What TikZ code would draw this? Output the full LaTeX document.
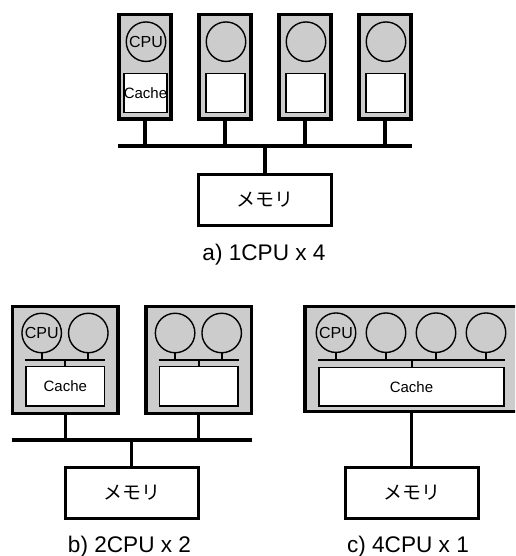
\documentclass[tikz,border=0pt]{standalone}
\usepackage{fontspec}
\setmainfont{Liberation Sans}
\newfontfamily\jpfont{Noto Sans CJK JP}
\usetikzlibrary{positioning}

\begin{document}
\begin{tikzpicture}[
 x=1pt,y=-1pt,
 board/.style={draw,line width=3.4pt,fill=black!20,inner sep=0pt},
 cpu/.style={draw,circle,line width=1.4pt,minimum size=39.5pt,inner sep=0pt,font=\fontsize{16}{16}\selectfont},
 cache/.style={draw,fill=white,line width=1.4pt,inner sep=0pt,font=\fontsize{15}{15}\selectfont},
 mem/.style={draw,line width=3.2pt,minimum width=133pt,minimum height=51pt,inner sep=0pt,font=\jpfont\fontsize{19}{19}\selectfont},
 bus/.style={line width=3.2pt},
 tap/.style={line width=2pt},
 title/.style={anchor=base,font=\fontsize{22.6}{22.6}\selectfont}
]
\useasboundingbox (0,0) rectangle (515,556);
\clip (0,0) rectangle (515,556);

% a) 1CPU x 4
\foreach \i/\x in {1/145,2/225,3/305,4/385}{
  \node[board,minimum width=52pt,minimum height=104.5pt] (pa\i) at (\x,66.7) {};
  \node[cpu] (ca\i) at (\x+1,41.7) {\ifnum\i=1 CPU\fi};
  \node[cache,minimum size=39pt] (ka\i) at (\x+0.5,93.3) {\ifnum\i=1 Cache\fi};
}
\coordinate (busaL) at (118,146);
\coordinate (busaR) at (412,146);
\draw[bus] (busaL) -- (busaR);
\foreach \i in {1,...,4}
  \draw[bus] (pa\i.south) -- (pa\i.south |- busaL);
\node[mem] (ma) at (265,200) {メモリ};
\draw[bus] (ma.north) -- (ma.north |- busaL);
\node[title] (ta) at (264,260.7) {a) 1CPU x 4};

% b) 2CPU x 2
\foreach \i/\x in {1/65.3,2/198.7}{
  \node[board,minimum width=105.5pt,minimum height=106.5pt] (pb\i) at (\x,360) {};
  \node[cpu] (cb\i1) at (\x-23.6,333) {\ifnum\i=1 CPU\fi};
  \node[cpu] (cb\i2) at (\x+23,333) {};
  \node[cache,minimum width=78.6pt,minimum height=39.3pt] (kb\i) at (\x,386.3) {\ifnum\i=1 Cache\fi};
  \coordinate (ibL\i) at (\x-40,360);
  \coordinate (ibR\i) at (\x+40,360);
  \draw[tap] (ibL\i) -- (ibR\i);
  \draw[tap] (cb\i1.south) -- (cb\i1.south |- ibL\i);
  \draw[tap] (cb\i2.south) -- (cb\i2.south |- ibL\i);
  \draw[tap] (kb\i.north) -- (kb\i.north |- ibL\i);
}
\coordinate (busbL) at (12.3,440);
\coordinate (busbR) at (251.7,440);
\draw[bus] (busbL) -- (busbR);
\foreach \i in {1,2}
  \draw[bus] (pb\i.south) -- (pb\i.south |- busbL);
\node[mem] (mb) at (131.7,493) {メモリ};
\draw[bus] (mb.north) -- (mb.north |- busbL);
\node[title] (tb) at (129.5,552.7) {b) 2CPU x 2};

% c) 4CPU x 1
\node[board,minimum width=213.5pt,minimum height=105pt] (pc) at (411.7,359.2) {};
\foreach \i/\x in {1/336,2/386,3/436,4/486}
  \node[cpu] (cc\i) at (\x,332.7) {\ifnum\i=1 CPU\fi};
\node[cache,minimum width=185.3pt,minimum height=38.6pt] (kc) at (411.5,386.7) {Cache};
\coordinate (icL) at (318.3,360);
\coordinate (icR) at (505,360);
\draw[tap] (icL) -- (icR);
\foreach \i in {1,...,4}
  \draw[tap] (cc\i.south) -- (cc\i.south |- icL);
\draw[tap] (kc.north) -- (kc.north |- icL);
\node[mem] (mc) at (411.7,493) {メモリ};
\draw[bus] (pc.south) -- (mc.north);
\node[title] (tc) at (408,552.7) {c) 4CPU x 1};
\end{tikzpicture}
\end{document}
